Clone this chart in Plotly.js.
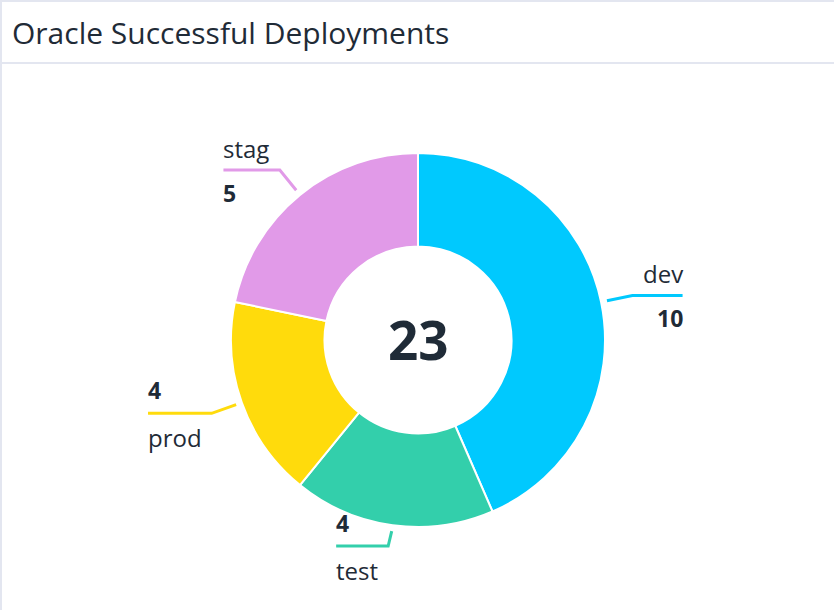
<!DOCTYPE html>
<html>
<head>
<meta charset="utf-8">
<script src="https://cdn.plot.ly/plotly-3.0.1.min.js"></script>
<style>
  html, body { margin: 0; padding: 0; background: #ffffff; }
  #chart { width: 834px; height: 610px; }
</style>
</head>
<body>
<div id="chart"></div>
<script>
// ---- data ----
const labels = ["dev", "test", "prod", "stag"];
const values = [10, 4, 4, 5];
const colors = ["#00c9fe", "#33cfab", "#ffdb0c", "#e19ae8"];
const chartTitle = "Oracle Successful Deployments";

// ---- layout constants (pixels) ----
const W = 834, H = 610;
const CX = 418, CY = 340, R = 187;
const textColor = "#1f2b37";
const borderColor = "#e3e6f0";
const FONT = "Open Sans, sans-serif";
const LABEL_SIZE = 24;

const px = x => x / W;
const py = y => 1 - y / H;

const ctx = document.createElement("canvas").getContext("2d");
function textWidth(t, bold) {
  ctx.font = (bold ? "bold " : "") + LABEL_SIZE + "px 'Open Sans'";
  return ctx.measureText(t).width;
}

const total = values.reduce((a, b) => a + b, 0);

const shapes = [
  // panel borders
  {type: "rect", xref: "paper", yref: "paper", x0: px(0), x1: px(W), y0: py(2), y1: py(0), fillcolor: borderColor, line: {width: 0}, layer: "below"},
  {type: "rect", xref: "paper", yref: "paper", x0: px(0), x1: px(2), y0: py(H), y1: py(0), fillcolor: borderColor, line: {width: 0}, layer: "below"},
  {type: "rect", xref: "paper", yref: "paper", x0: px(0), x1: px(W), y0: py(64), y1: py(62), fillcolor: borderColor, line: {width: 0}, layer: "below"}
];

const annotations = [
  {text: "<b>" + total + "</b>", x: px(CX), y: py(CY), xref: "paper", yref: "paper",
   showarrow: false, xanchor: "center", yanchor: "middle",
   font: {family: FONT, size: 53, color: textColor}}
];

let cum = 0;
values.forEach((v, i) => {
  const mid = (cum + v / 2) / total * 2 * Math.PI;
  cum += v;
  const dx = Math.sin(mid), dy = -Math.cos(mid);
  const sx = CX + dx * (R + 6), sy = CY + dy * (R + 6);
  const ex = CX + dx * (R + 32);
  const ey = Math.min(CY + dy * (R + 32), CY + R + 19);
  const right = dx >= 0;
  const hlen = Math.max(textWidth(labels[i], false), textWidth(String(v), true)) + 10;
  const hx = ex + (right ? hlen : -hlen);
  shapes.push({
    type: "path", xref: "paper", yref: "paper",
    path: `M ${px(sx)} ${py(sy)} L ${px(ex)} ${py(ey)} L ${px(hx)} ${py(ey)}`,
    line: {color: colors[i], width: 3}
  });
  const upper = dy < 0;
  const nameShift = upper ? 22 : -24;
  const valShift = upper ? -23 : 23;
  const anchor = right ? "right" : "left";
  annotations.push({
    text: labels[i], x: px(hx), y: py(ey), xref: "paper", yref: "paper",
    showarrow: false, xanchor: anchor, yanchor: "middle", yshift: nameShift, xshift: right ? 2 : -2,
    font: {family: FONT, size: LABEL_SIZE, color: textColor}
  });
  annotations.push({
    text: "<b>" + v + "</b>", x: px(hx), y: py(ey), xref: "paper", yref: "paper",
    showarrow: false, xanchor: anchor, yanchor: "middle", yshift: valShift, xshift: right ? 2 : -2,
    font: {family: FONT, size: 23, color: textColor}
  });
});

const trace = {
  type: "pie",
  labels: labels,
  values: values,
  hole: 0.5,
  sort: false,
  direction: "clockwise",
  rotation: 0,
  textinfo: "none",
  hoverinfo: "label+value",
  marker: {colors: colors, line: {color: "#ffffff", width: 2}},
  domain: {x: [px(CX - R), px(CX + R)], y: [py(CY + R), py(CY - R)]}
};

const layout = {
  width: W, height: H,
  margin: {l: 0, r: 0, t: 0, b: 0},
  paper_bgcolor: "#ffffff",
  showlegend: false,
  title: {
    text: chartTitle, x: px(12), xanchor: "left", xref: "paper",
    y: py(33), yanchor: "middle", yref: "paper",
    font: {family: FONT, size: 30, color: textColor}
  },
  shapes: shapes,
  annotations: annotations
};

Plotly.newPlot("chart", [trace], layout, {displayModeBar: false, staticPlot: true});
</script>
</body>
</html>
